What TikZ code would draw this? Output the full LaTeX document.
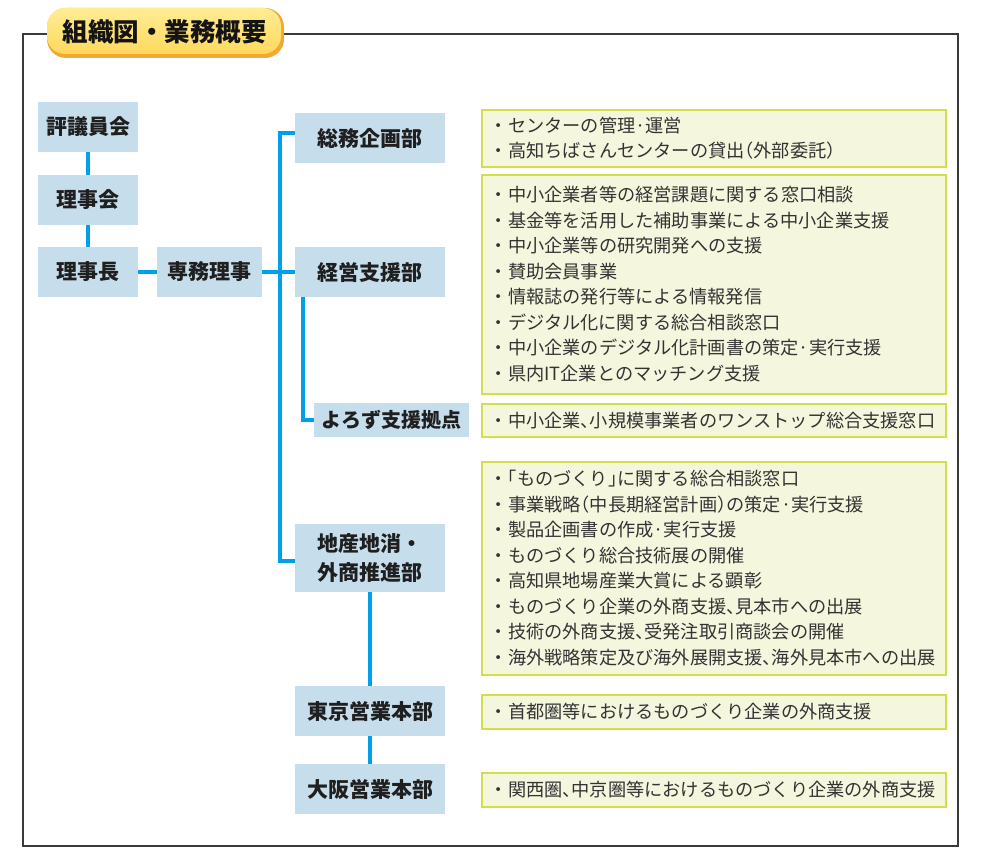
\documentclass[tikz,border=0pt]{standalone}
\usepackage{fontspec}
\setmainfont{Noto Sans CJK JP}
\newfontfamily\jph[RawFeature=+halt]{Noto Sans CJK JP}
\definecolor{nodeblue}{HTML}{C6DDEB}
\definecolor{lineblue}{HTML}{00A0E9}
\definecolor{descborder}{HTML}{D2DF4A}
\definecolor{descfill}{HTML}{F4F6DE}
\definecolor{framegray}{HTML}{3A3A3A}
\definecolor{titleorange}{HTML}{F2A833}
\definecolor{titletop}{HTML}{FFEC94}
\definecolor{titlebot}{HTML}{FFD95C}
\newcommand{\hh}[1]{{\jph #1}}
\begin{document}
\begin{tikzpicture}[x=1pt,y=-1pt,
  org/.style={fill=nodeblue, text=black!88, font=\fontsize{21}{29}\selectfont\bfseries, inner sep=0pt, minimum height=50, align=center},
  conn/.style={draw=lineblue, line width=4pt},
  desc/.style={draw=descborder, fill=descfill, line width=1.6pt, text width=448pt, inner xsep=8pt, inner ysep=0pt, align=left, font=\fontsize{18.2}{25.5}\selectfont, text=black!80, anchor=north west}]
\useasboundingbox (0,0) rectangle (990,853);
\fill[white] (0,0) rectangle (990,853);
% frame
\draw[framegray, line width=1.2pt] (23,34) rectangle (958,846);
% title pill
\fill[titleorange, rounded corners=19pt] (47,8) rectangle (284,58);
\shade[top color=titletop, bottom color=titlebot, rounded corners=18pt] (47,8) rectangle (281,54);
\node[font=\fontsize{25.5}{30}\selectfont\bfseries, text=black!92] (title) at (164.5,32) {組織図・業務概要};
% org nodes
\node[org, minimum width=100] (hyogi) at (88,127) {評議員会};
\node[org, minimum width=100] (rijikai) at (88,200) {理事会};
\node[org, minimum width=100] (richo) at (88,272) {理事長};
\node[org, minimum width=105] (senmu) at (209.5,272) {専務理事};
\node[org, minimum width=150] (somu) at (370,138) {総務企画部};
\node[org, minimum width=150] (keiei) at (370,272) {経営支援部};
\node[org, minimum width=155, minimum height=34, font=\fontsize{20}{26}\selectfont\bfseries] (yorozu) at (391.5,420) {よろず支援拠点};
\node[org, minimum width=150, minimum height=68] (chisan) at (370,558) {地産地消・\\外商推進部};
\node[org, minimum width=150] (tokyo) at (370,711) {東京営業本部};
\node[org, minimum width=150] (osaka) at (370,789) {大阪営業本部};
% connectors
\coordinate (tTop) at (280,133);
\coordinate (tBot) at (280,561);
\coordinate (yb) at (303,420);
\draw[conn] (hyogi) -- (rijikai);
\draw[conn] (rijikai) -- (richo);
\draw[conn] (richo) -- (senmu);
\draw[conn] (senmu) -- (keiei);
\draw[conn] (somu.west |- tTop) -- (tTop) -- (tBot) -- (chisan.west |- tBot);
\draw[conn] (keiei.south -| yb) -- (yb) -- (yorozu.west);
\draw[conn] (chisan) -- (tokyo);
\draw[conn] (tokyo) -- (osaka);
% descriptions
\node[desc, minimum height=57] (d1) at (481,109) {・センターの管理·運営\\・高知ちばさんセンターの貸出\hh{（}外部委託\hh{）}};
\node[desc, minimum height=219] (d2) at (481,174) {・中小企業者等の経営課題に関する窓口相談\\・基金等を活用した補助事業による中小企業支援\\・中小企業等の研究開発への支援\\・賛助会員事業\\・情報誌の発行等による情報発信\\・デジタル化に関する総合相談窓口\\・中小企業のデジタル化計画書の策定·実行支援\\・県内IT企業とのマッチング支援};
\node[desc, minimum height=33] (d3) at (481,403) {・中小企業\hh{、}小規模事業者のワンストップ総合支援窓口};
\node[desc, minimum height=213] (d4) at (481,461) {・\hh{「}ものづくり\hh{」}に関する総合相談窓口\\・事業戦略\hh{（}中長期経営計画\hh{）}の策定·実行支援\\・製品企画書の作成·実行支援\\・ものづくり総合技術展の開催\\・高知県地場産業大賞による顕彰\\・ものづくり企業の外商支援\hh{、}見本市への出展\\・技術の外商支援\hh{、}受発注取引商談会の開催\\・海外戦略策定及び海外展開支援\hh{、}海外見本市への出展};
\node[desc, minimum height=34] (d5) at (481,694) {・首都圏等におけるものづくり企業の外商支援};
\node[desc, minimum height=34] (d6) at (481,772) {・関西圏\hh{、}中京圏等におけるものづくり企業の外商支援};
\end{tikzpicture}
\end{document}
